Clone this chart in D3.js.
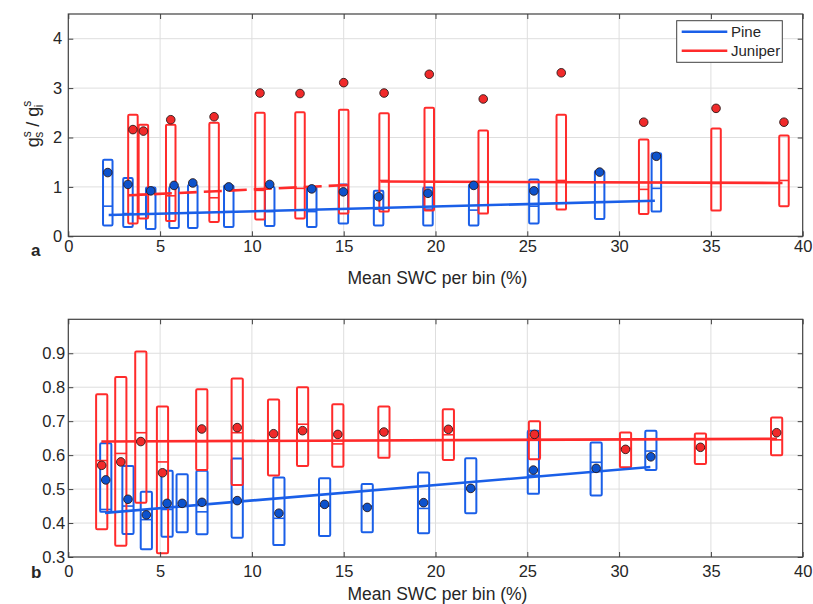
<!DOCTYPE html>
<html>
<head>
<meta charset="utf-8">
<script src="https://cdn.jsdelivr.net/npm/d3@7"></script>
<style>
  body { margin: 0; background: #fff; }
  svg text { font-family: "Liberation Sans", Arial, sans-serif; fill: #262626; }
  .grid line { stroke: #dedede; stroke-width: 1; }
</style>
</head>
<body>
<div id="chart"></div>
<script>
'use strict';

// ---- panel a: gs/gi ----
const pineA_x    = [2.15, 3.25, 4.49, 5.76, 6.78, 8.74, 10.97, 13.26, 14.98, 16.9, 19.59, 22.08, 25.36, 28.94, 32.03];
const pineA_mean = [1.29, 1.05, 0.92, 1.03, 1.08, 1.0, 1.05, 0.96, 0.9, 0.8, 0.87, 1.03, 0.92, 1.3, 1.62];
const pineA_q1   = [0.22, 0.19, 0.15, 0.17, 0.17, 0.19, 0.21, 0.19, 0.26, 0.22, 0.22, 0.22, 0.26, 0.35, 0.5];
const pineA_med  = [0.61, 0.46, 0.45, 0.47, 0.48, 0.5, 0.5, 0.5, 0.55, 0.55, 0.55, 0.53, 0.61, 0.7, 0.97];
const pineA_q3   = [1.55, 1.18, 0.99, 1.0, 1.04, 1.03, 1.0, 1.0, 1.05, 0.92, 0.99, 1.05, 1.15, 1.32, 1.68];

const junA_x    = [3.52, 4.09, 5.58, 7.94, 10.44, 12.62, 15.0, 17.2, 19.66, 22.6, 26.85, 31.34, 35.28, 38.98];
const junA_mean = [2.16, 2.13, 2.36, 2.42, 2.9, 2.89, 3.11, 2.9, 3.28, 2.78, 3.31, 2.31, 2.59, 2.31];
const junA_q1   = [0.26, 0.36, 0.31, 0.29, 0.34, 0.36, 0.46, 0.5, 0.52, 0.46, 0.54, 0.45, 0.52, 0.61];
const junA_med  = [0.83, 0.85, 0.82, 0.78, 0.93, 0.97, 1.03, 1.13, 1.1, 1.1, 1.13, 0.95, 1.07, 1.13];
const junA_q3   = [2.46, 2.26, 2.26, 2.3, 2.5, 2.51, 2.56, 2.49, 2.6, 2.14, 2.46, 1.96, 2.18, 2.04];

const pineA_fit_x = [2.2, 31.95],  pineA_fit_y = [0.43, 0.72];
const junA_dash_x = [3.3, 15.3],   junA_dash_y = [0.83, 1.04];
const junA_fit_x  = [17.0, 38.9],  junA_fit_y  = [1.11, 1.08];

// ---- panel b: Ci/Ca ----
const pineB_x    = [2.04, 3.25, 4.25, 5.38, 6.2, 7.28, 9.2, 11.47, 13.96, 16.28, 19.35, 21.92, 25.33, 28.75, 31.73];
const pineB_mean = [0.527, 0.47, 0.424, 0.458, 0.458, 0.461, 0.466, 0.429, 0.455, 0.446, 0.46, 0.502, 0.556, 0.561, 0.595];
const pineB_q1   = [0.433, 0.368, 0.323, 0.36, 0.373, 0.367, 0.357, 0.335, 0.362, 0.373, 0.37, 0.429, 0.486, 0.481, 0.556];
const pineB_med  = [0.44, 0.45, 0.41, 0.44, 0.45, 0.433, 0.466, 0.414, 0.45, 0.45, 0.443, 0.5, 0.541, 0.579, 0.612];
const pineB_q3   = [0.635, 0.568, 0.492, 0.554, 0.544, 0.554, 0.59, 0.534, 0.532, 0.515, 0.549, 0.591, 0.672, 0.637, 0.672];

const junB_x    = [1.82, 2.86, 3.95, 5.13, 7.27, 9.2, 11.18, 12.76, 14.68, 17.19, 20.7, 25.39, 30.35, 34.43, 38.58];
const junB_mean = [0.57, 0.58, 0.64, 0.548, 0.677, 0.681, 0.663, 0.672, 0.661, 0.668, 0.676, 0.661, 0.617, 0.623, 0.666];
const junB_q1   = [0.382, 0.333, 0.46, 0.311, 0.556, 0.512, 0.54, 0.568, 0.566, 0.592, 0.586, 0.588, 0.564, 0.574, 0.6];
const junB_med  = [0.584, 0.605, 0.666, 0.58, 0.64, 0.666, 0.645, 0.691, 0.633, 0.67, 0.66, 0.65, 0.62, 0.62, 0.645];
const junB_q3   = [0.779, 0.83, 0.905, 0.743, 0.794, 0.826, 0.764, 0.8, 0.75, 0.743, 0.735, 0.70, 0.667, 0.664, 0.711];

const pineB_fit_x = [2.0, 31.7],  pineB_fit_y = [0.43, 0.565];
const junB_fit_x  = [1.8, 38.6],  junB_fit_y  = [0.64, 0.648];

const xTicks = [0, 5, 10, 15, 20, 25, 30, 35, 40];
const yTicksA = [0, 1, 2, 3, 4];
const yTicksB = [0.3, 0.4, 0.5, 0.6, 0.7, 0.8, 0.9];
const legendNames = ['Pine', 'Juniper'];

const BLUE = '#1a5fe8';
const RED = '#ff2b2b';
const BLUE_DOT = '#0d52cc';
const RED_DOT = '#f02a2a';
const FONT = '"Liberation Sans", Arial, sans-serif';

const W = 813, H = 604;
const svg = d3.select('#chart').append('svg')
    .attr('width', W).attr('height', H);
svg.append('rect').attr('width', W).attr('height', H).attr('fill', '#fff');

const zip = (xs, a, b, c, d) => xs.map((x, i) => ({ x: x, q1: a[i], med: b[i], q3: c[i], mean: d[i] }));

const drawPanel = (cfg) => {
    const x = d3.scaleLinear().domain([0, 40]).range([cfg.left, cfg.right]);
    const y = d3.scaleLinear().domain(cfg.yDomain).range([cfg.bottom, cfg.top]);
    const g = svg.append('g');

    // grid
    const grid = g.append('g').attr('class', 'grid');
    grid.selectAll('line.vx').data(xTicks.slice(1, -1)).join('line')
        .attr('x1', d => x(d)).attr('x2', d => x(d))
        .attr('y1', cfg.top).attr('y2', cfg.bottom);
    grid.selectAll('line.hy').data(cfg.yTicks.filter(d => d !== cfg.yDomain[0])).join('line')
        .attr('x1', cfg.left).attr('x2', cfg.right)
        .attr('y1', d => y(d)).attr('y2', d => y(d));

    // boxes
    const drawBoxes = (data, color) => {
        const bw = cfg.boxW;
        const bg = g.append('g');
        bg.selectAll('rect').data(data).join('rect')
            .attr('x', d => x(d.x) - bw / 2).attr('width', bw)
            .attr('y', d => y(d.q3)).attr('height', d => y(d.q1) - y(d.q3))
            .attr('fill', 'none').attr('stroke', color).attr('stroke-width', 2)
            .attr('rx', 1.2);
        bg.selectAll('line').data(data).join('line')
            .attr('x1', d => x(d.x) - bw / 2).attr('x2', d => x(d.x) + bw / 2)
            .attr('y1', d => y(d.med)).attr('y2', d => y(d.med))
            .attr('stroke', color).attr('stroke-width', 1.6);
    };
    drawBoxes(cfg.pine, BLUE);
    drawBoxes(cfg.jun, RED);

    // fit lines
    const line = d3.line().x(d => x(d[0])).y(d => y(d[1]));
    cfg.fits.forEach(f => {
        g.append('path')
            .datum(f.xs.map((v, i) => [v, f.ys[i]]))
            .attr('d', line)
            .attr('fill', 'none').attr('stroke', f.color).attr('stroke-width', 2.6)
            .attr('stroke-dasharray', f.dash || null);
    });

    // means
    const drawDots = (data, fill) => {
        g.append('g').selectAll('circle').data(data).join('circle')
            .attr('cx', d => x(d.x)).attr('cy', d => y(d.mean)).attr('r', 4.3)
            .attr('fill', fill).attr('stroke', '#2a1a1a').attr('stroke-width', 0.9);
    };
    drawDots(cfg.pine, BLUE_DOT);
    drawDots(cfg.jun, RED_DOT);

    // axes
    const ax = g.append('g').attr('transform', `translate(0,${cfg.bottom})`)
        .call(d3.axisBottom(x).tickValues(xTicks).tickSizeInner(-5).tickSizeOuter(0).tickPadding(cfg.xPad));
    const ay = g.append('g').attr('transform', `translate(${cfg.left},0)`)
        .call(d3.axisLeft(y).tickValues(cfg.yTicks).tickFormat(cfg.yFmt).tickSizeInner(-5).tickSizeOuter(0).tickPadding(cfg.yPad));
    const axT = g.append('g').attr('transform', `translate(0,${cfg.top})`)
        .call(d3.axisTop(x).tickValues(xTicks).tickSizeInner(-5).tickSizeOuter(0).tickFormat(''));
    const ayR = g.append('g').attr('transform', `translate(${cfg.right},0)`)
        .call(d3.axisRight(y).tickValues(cfg.yTicks).tickSizeInner(-5).tickSizeOuter(0).tickFormat(''));
    [ax, ay, axT, ayR].forEach(a => {
        a.attr('font-size', null).attr('font-family', null);
        a.select('.domain').remove();
        a.selectAll('line').attr('stroke', '#404040');
        a.selectAll('text').attr('font-size', 16.5).attr('fill', '#262626')
            .attr('font-family', FONT);
    });
    g.append('rect')
        .attr('x', cfg.left).attr('y', cfg.top)
        .attr('width', cfg.right - cfg.left).attr('height', cfg.bottom - cfg.top)
        .attr('fill', 'none').attr('stroke', '#404040').attr('stroke-width', 1.2);

    // x label
    g.append('text')
        .attr('x', (cfg.left + cfg.right) / 2 + 2).attr('y', cfg.xLabelY)
        .attr('text-anchor', 'middle').attr('font-size', 17.5)
        .text('Mean SWC per bin (%)');

    // panel letter
    g.append('text')
        .attr('x', 31).attr('y', cfg.letterY)
        .attr('font-size', 17).attr('font-weight', 'bold')
        .text(cfg.letter);

    return { x: x, y: y, g: g };
};

const pA = drawPanel({
    left: 68.3, right: 802.7, top: 14, bottom: 236.3,
    yDomain: [0, 4.5], yTicks: yTicksA, yFmt: d3.format('d'),
    boxW: 9.5, xPad: 4, yPad: 6, xLabelY: 284, letterY: 256, letter: 'a',
    pine: zip(pineA_x, pineA_q1, pineA_med, pineA_q3, pineA_mean),
    jun: zip(junA_x, junA_q1, junA_med, junA_q3, junA_mean),
    fits: [
        { xs: pineA_fit_x, ys: pineA_fit_y, color: BLUE },
        { xs: junA_dash_x, ys: junA_dash_y, color: RED, dash: '18,7' },
        { xs: junA_fit_x, ys: junA_fit_y, color: RED }
    ]
});

const pB = drawPanel({
    left: 68.3, right: 802.7, top: 319.3, bottom: 557,
    yDomain: [0.3, 1.0], yTicks: yTicksB, yFmt: d3.format('.1f'),
    boxW: 11.2, xPad: 8, yPad: 3, xLabelY: 600, letterY: 578, letter: 'b',
    pine: zip(pineB_x, pineB_q1, pineB_med, pineB_q3, pineB_mean),
    jun: zip(junB_x, junB_q1, junB_med, junB_q3, junB_mean),
    fits: [
        { xs: pineB_fit_x, ys: pineB_fit_y, color: BLUE },
        { xs: junB_fit_x, ys: junB_fit_y, color: RED }
    ]
});

// y labels
const yLabA = svg.append('text')
    .attr('transform', 'translate(39,124) rotate(-90)')
    .attr('text-anchor', 'middle').attr('font-size', 18);
yLabA.append('tspan').text('g');
yLabA.append('tspan').attr('font-size', 12).attr('dy', -8).text('s');
yLabA.append('tspan').attr('font-size', 12).attr('dx', -6.5).attr('dy', 12).text('s');
yLabA.append('tspan').attr('dy', -4).text(' / g');
yLabA.append('tspan').attr('font-size', 12).attr('dy', -8).text('s');
yLabA.append('tspan').attr('font-size', 12).attr('dx', -6.5).attr('dy', 12).text('i');

svg.append('clipPath').attr('id', 'clipLab')
    .append('rect').attr('x', 13).attr('y', 380).attr('width', 40).attr('height', 100);
const yLabB = svg.append('text')
    .attr('clip-path', 'url(#clipLab)')
    .attr('transform', 'translate(24,441) rotate(-90)')
    .attr('text-anchor', 'middle').attr('font-size', 16.5);
yLabB.append('tspan').text('C');
yLabB.append('tspan').attr('font-size', 11).attr('dy', -8).text('s');
yLabB.append('tspan').attr('font-size', 11).attr('dx', -5.5).attr('dy', 11).text('i');
yLabB.append('tspan').attr('dy', -3).text('/C');
yLabB.append('tspan').attr('font-size', 11).attr('dy', -8).text('s');
yLabB.append('tspan').attr('font-size', 11).attr('dx', -5.5).attr('dy', 11).text('a');

// legend
const leg = svg.append('g');
leg.append('rect')
    .attr('x', 676.7).attr('y', 20.7).attr('width', 105.6).attr('height', 41.6)
    .attr('fill', '#fff').attr('stroke', '#404040').attr('stroke-width', 1);
leg.selectAll('line').data(legendNames).join('line')
    .attr('x1', 681.7).attr('x2', 727.3)
    .attr('y1', (d, i) => 31.7 + i * 19).attr('y2', (d, i) => 31.7 + i * 19)
    .attr('stroke', (d, i) => i === 0 ? BLUE : RED).attr('stroke-width', 2.6);
leg.selectAll('text').data(legendNames).join('text')
    .attr('x', 731).attr('y', (d, i) => 31.7 + i * 19 + 5.5)
    .attr('font-size', 15)
    .text(d => d);
</script>
</body>
</html>
